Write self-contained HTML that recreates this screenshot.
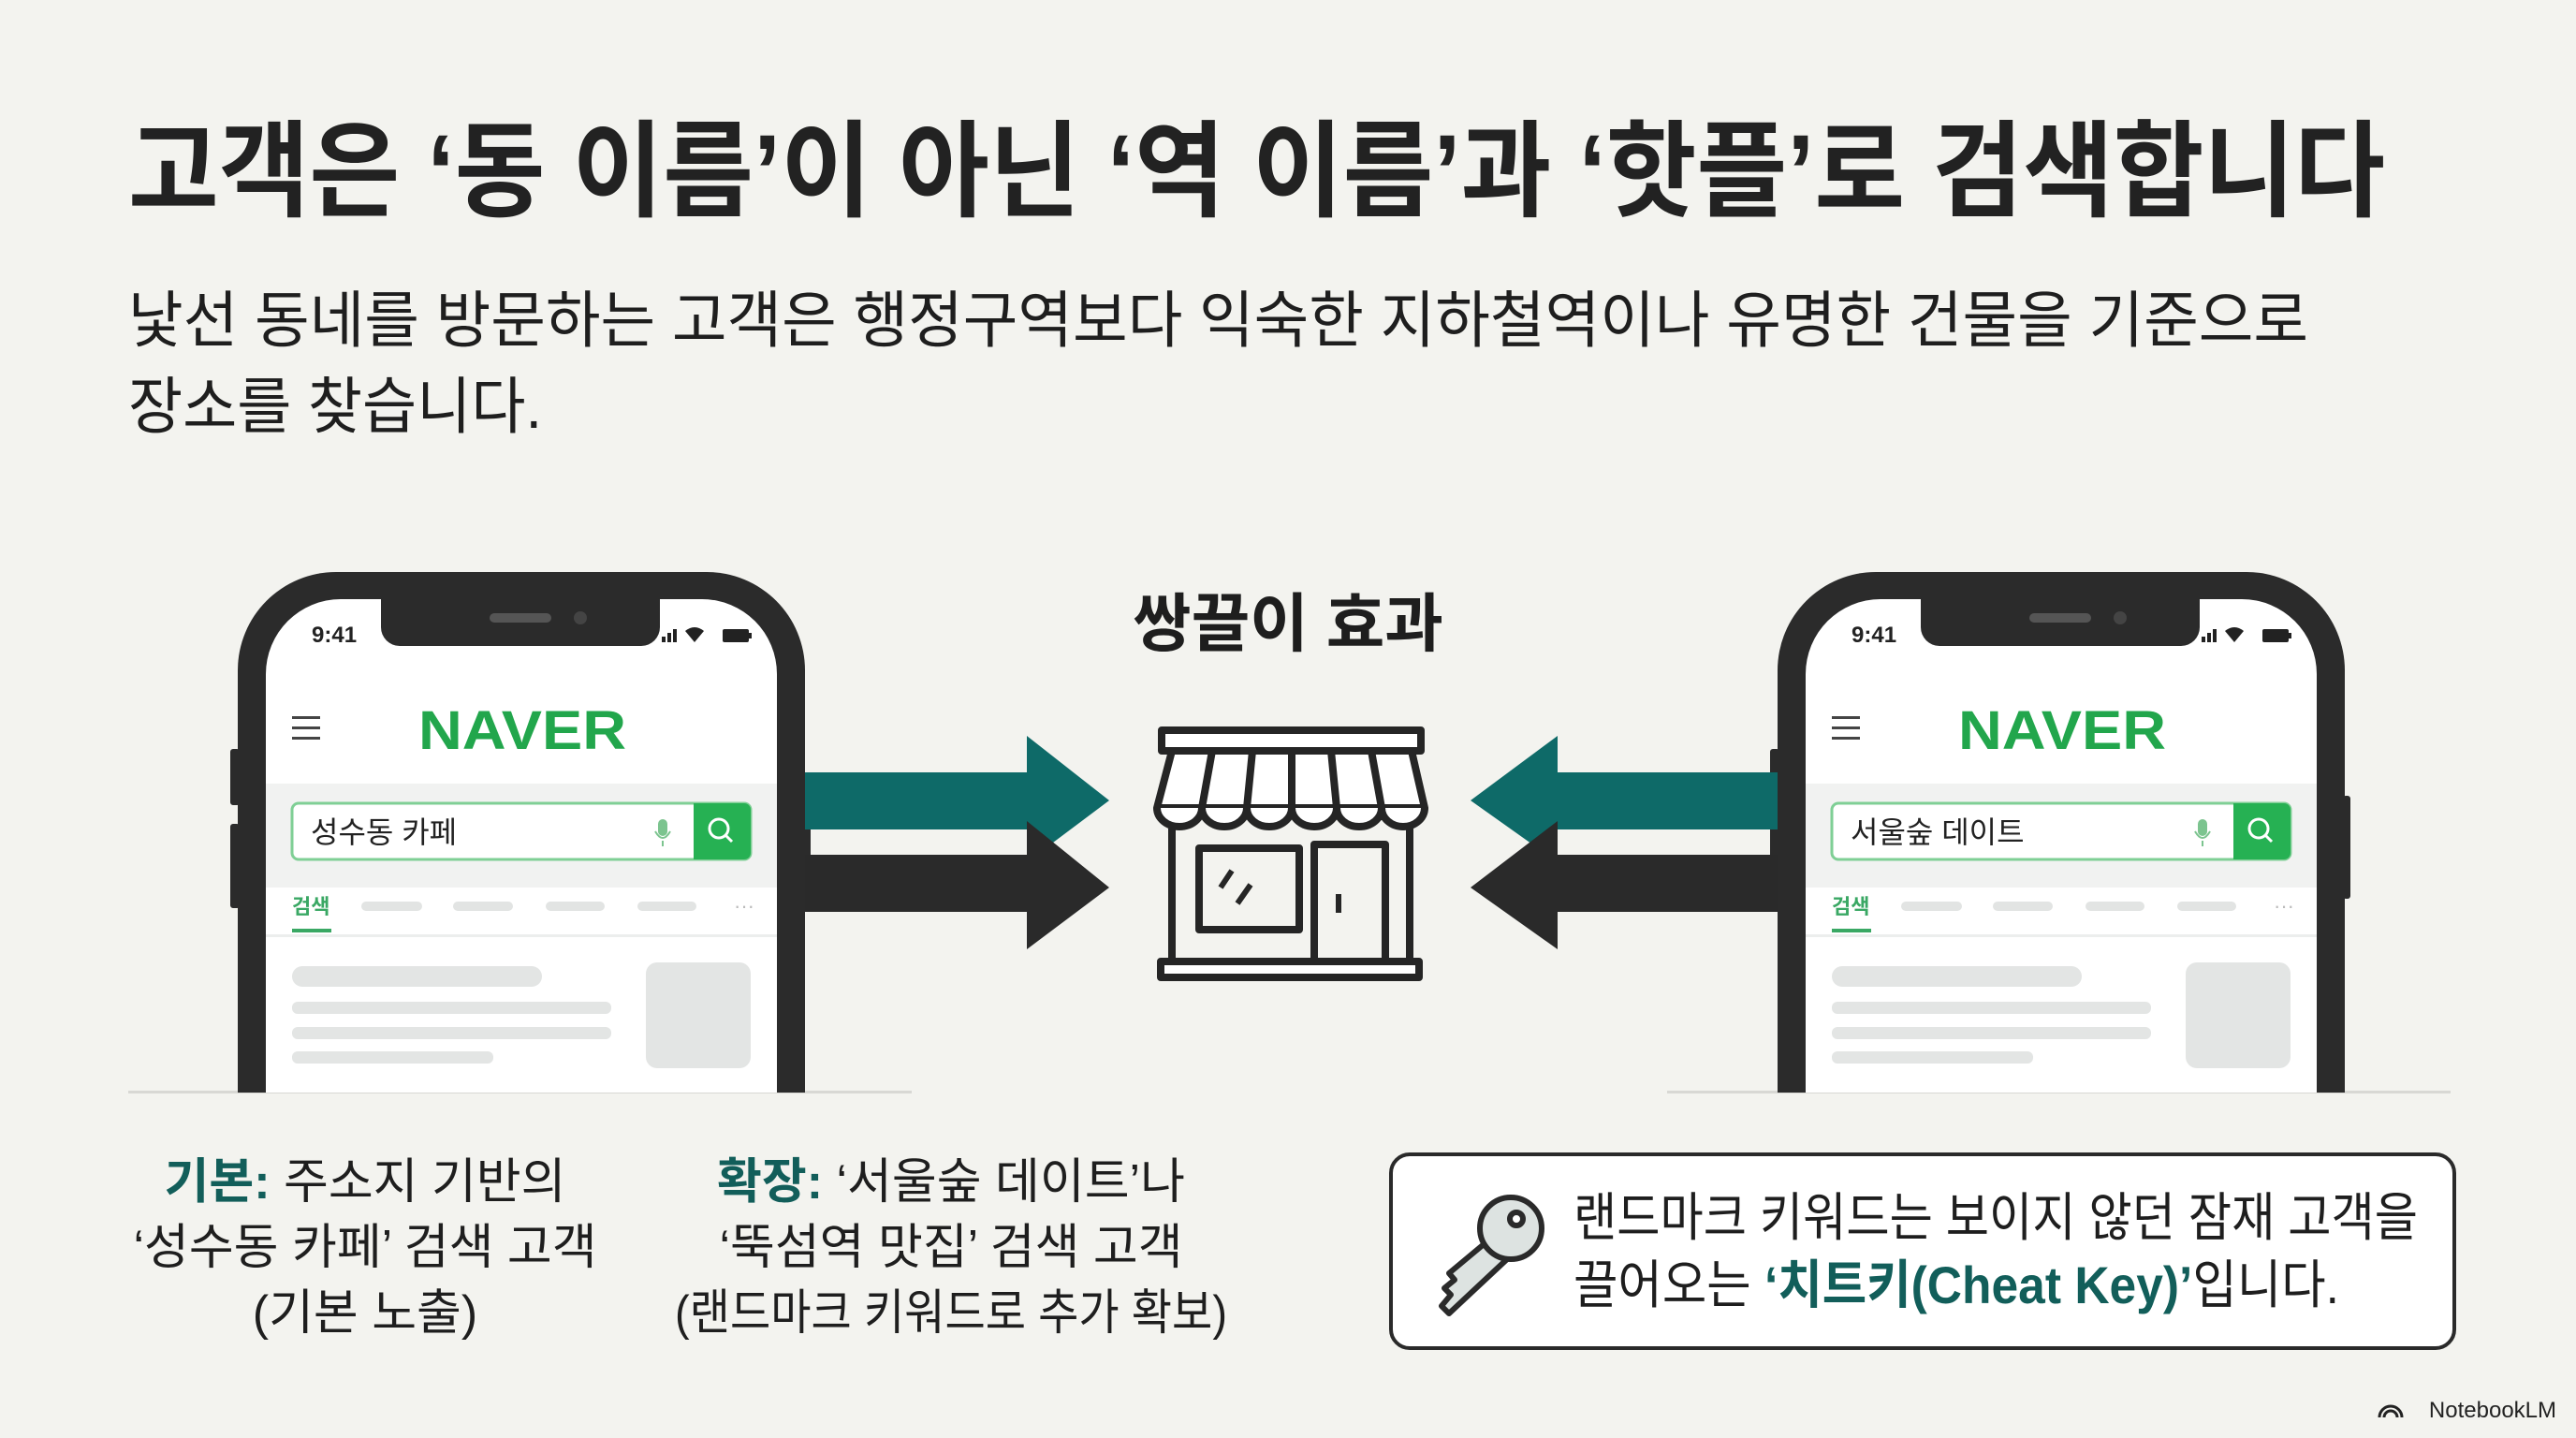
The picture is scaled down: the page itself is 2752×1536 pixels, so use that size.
<!DOCTYPE html>
<html><head><meta charset="utf-8"><style>
html,body{margin:0;padding:0;background:#f3f3ef;}
svg{display:block;}
text{font-family:"Liberation Sans","Noto Sans CJK KR",sans-serif;}
</style></head><body>
<svg width="2752" height="1536" viewBox="0 0 2752 1536" xmlns="http://www.w3.org/2000/svg">
<rect width="2752" height="1536" fill="#f3f3ef"/>

<!-- Title -->
<text x="137" y="222" font-size="112" font-weight="700" fill="#222" textLength="2411" lengthAdjust="spacingAndGlyphs">고객은 ‘동 이름’이 아닌 ‘역 이름’과 ‘핫플’로 검색합니다</text>
<text x="137" y="365" font-size="66" fill="#1e1e1e" textLength="2329" lengthAdjust="spacingAndGlyphs">낯선 동네를 방문하는 고객은 행정구역보다 익숙한 지하철역이나 유명한 건물을 기준으로</text>
<text x="137" y="457" font-size="66" fill="#1e1e1e" textLength="442" lengthAdjust="spacingAndGlyphs">장소를 찾습니다.</text>

<!-- ground lines -->
<rect x="137" y="1165" width="837" height="3" fill="#d8d8d4"/>
<rect x="1781" y="1165" width="837" height="3" fill="#d8d8d4"/>

<!-- Phone definition -->
<defs>
<g id="phone">
  <rect x="246" y="800" width="10" height="60" rx="3" fill="#2b2b2b"/>
  <rect x="246" y="880" width="10" height="90" rx="3" fill="#2b2b2b"/>
  <rect x="858" y="850" width="8" height="110" rx="3" fill="#2b2b2b"/>
  <path d="M254,1167 V716 A105,105 0 0 1 359,611 H755 A105,105 0 0 1 860,716 V1167 Z" fill="#2b2b2b"/>
  <path d="M284,1167 V720 A80,80 0 0 1 364,640 H750 A80,80 0 0 1 830,720 V1167 Z" fill="#fff"/>
  <path d="M407,640 H705 V670 A20,20 0 0 1 685,690 H427 A20,20 0 0 1 407,670 Z" fill="#2b2b2b"/>
  <rect x="523" y="655" width="66" height="10" rx="5" fill="#555"/>
  <circle cx="620" cy="660" r="7" fill="#444"/>
  <text x="333" y="686" font-size="24" font-weight="700" fill="#222">9:41</text>
  <rect x="707" y="680" width="4" height="6" fill="#222"/><rect x="713" y="676" width="4" height="10" fill="#222"/><rect x="719" y="672" width="4" height="14" fill="#222"/>
  <path d="M732,674 Q742,666 752,674 L742,686 Z" fill="#222"/>
  <rect x="772" y="672" width="28" height="14" rx="2" fill="#222"/><rect x="800" y="676" width="3" height="6" fill="#222"/>
  <rect x="312" y="765" width="30" height="3" fill="#444"/><rect x="312" y="776" width="30" height="3" fill="#444"/><rect x="312" y="787" width="30" height="3" fill="#444"/>
  <text x="558" y="800" font-size="58" font-weight="900" fill="#22a64c" text-anchor="middle" font-family="Liberation Sans, sans-serif" textLength="222" lengthAdjust="spacingAndGlyphs">NAVER</text>
  <rect x="284" y="837" width="546" height="111" fill="#f1f2f1"/>
  <rect x="312" y="858" width="490" height="60" rx="7" fill="#fff" stroke="#7fcf95" stroke-width="3"/>
  <path d="M741,858 H795 A7,7 0 0 1 802,865 V911 A7,7 0 0 1 795,918 H741 Z" fill="#26b153"/>
  <circle cx="768" cy="885" r="10" fill="none" stroke="#fff" stroke-width="3"/><line x1="775" y1="892" x2="782" y2="899" stroke="#fff" stroke-width="3"/>
  <rect x="703" y="875" width="10" height="18" rx="5" fill="#7cc48f"/><path d="M700,888 Q708,902 716,888" fill="none" stroke="#7cc48f" stroke-width="2"/><line x1="708" y1="898" x2="708" y2="904" stroke="#7cc48f" stroke-width="2"/>
  <rect x="284" y="948" width="546" height="52" fill="#fff"/>
  <text x="312" y="976" font-size="22" font-weight="700" fill="#3aa864">검색</text>
  <rect x="312" y="992" width="42" height="4" fill="#3aa864"/>
  <rect x="386" y="963" width="65" height="10" rx="5" fill="#e2e4e3"/>
  <rect x="484" y="963" width="64" height="10" rx="5" fill="#e2e4e3"/>
  <rect x="583" y="963" width="63" height="10" rx="5" fill="#e2e4e3"/>
  <rect x="681" y="963" width="63" height="10" rx="5" fill="#e2e4e3"/>
  <text x="795" y="975" font-size="22" fill="#bbb" text-anchor="middle">···</text>
  <rect x="284" y="998" width="546" height="3" fill="#eceeed"/>
  <rect x="312" y="1032" width="267" height="22" rx="11" fill="#e3e5e4"/>
  <rect x="312" y="1070" width="341" height="13" rx="6" fill="#e3e5e4"/>
  <rect x="312" y="1097" width="341" height="13" rx="6" fill="#e3e5e4"/>
  <rect x="312" y="1123" width="215" height="13" rx="6" fill="#e3e5e4"/>
  <rect x="690" y="1028" width="112" height="113" rx="12" fill="#e3e5e4"/>
</g>
</defs>

<use href="#phone"/>
<text x="332" y="900" font-size="32" fill="#222">성수동 카페</text>
<use href="#phone" transform="translate(1645,0)"/>
<text x="1977" y="900" font-size="32" fill="#222">서울숲 데이트</text>

<!-- arrows left -->
<path d="M860,825 H1097 V786 L1185,855 L1097,921 V886 H860 Z" fill="#0e6a68"/>
<path d="M860,913 H1097 V877 L1185,948 L1097,1014 V974 H860 Z" fill="#2a2a2a"/>
<!-- arrows right -->
<path d="M1899,825 H1664 V786 L1571,855 L1664,921 V886 H1899 Z" fill="#0e6a68"/>
<path d="M1899,913 H1664 V877 L1571,948 L1664,1014 V974 H1899 Z" fill="#2a2a2a"/>

<!-- title center -->
<text x="1376" y="690" font-size="68" font-weight="700" fill="#1e1e1e" text-anchor="middle">쌍끌이 효과</text>

<!-- store -->
<g fill="none" stroke="#252525" stroke-width="8" stroke-linejoin="round">
  <rect x="1241" y="780" width="277" height="22" fill="#fff"/>
  <path d="M1252,802 H1508 L1522,863 H1236 Z" fill="#fff"/>
  <path d="M1295,802 L1284,863 M1338,802 L1332,863 M1380,802 V863 M1422,802 L1428,863 M1465,802 L1476,863"/>
  <path d="M1236,863 A24,20 0 0 0 1284,863 A24,20 0 0 0 1332,863 A24,20 0 0 0 1380,863 A24,20 0 0 0 1428,863 A24,20 0 0 0 1476,863 A23,20 0 0 0 1522,863" fill="#fff"/>
  <path d="M1252,885 V1027 M1506,885 V1027"/>
  <rect x="1281" y="906" width="107" height="87"/>
  <rect x="1404" y="902" width="76" height="125"/>
  <path d="M1316,930 L1304,948 M1336,945 L1322,965" stroke-width="6"/>
  <path d="M1430,955 V975" stroke-width="6"/>
  <rect x="1240" y="1027" width="276" height="17" fill="#fff"/>
</g>

<!-- bottom labels -->
<g font-size="52" fill="#1e1e1e" text-anchor="middle">
  <text x="390" y="1280"><tspan fill="#125e5a" font-weight="700">기본:</tspan> 주소지 기반의</text>
  <text x="390" y="1350">‘성수동 카페’ 검색 고객</text>
  <text x="390" y="1420">(기본 노출)</text>
  <text x="1016" y="1280"><tspan fill="#125e5a" font-weight="700">확장:</tspan> ‘서울숲 데이트’나</text>
  <text x="1016" y="1350">‘뚝섬역 맛집’ 검색 고객</text>
  <text x="1016" y="1420" textLength="590" lengthAdjust="spacingAndGlyphs">(랜드마크 키워드로 추가 확보)</text>
</g>

<!-- callout box -->
<rect x="1486" y="1233" width="1136" height="207" rx="20" fill="#fff" stroke="#2a2a2a" stroke-width="4"/>
<g stroke="#2a2a2a" stroke-width="6" fill="#dde3e1" stroke-linejoin="round">
  <path d="M1610,1345 L1548,1403 L1540,1395 L1550,1383 L1543,1376 L1554,1367 L1548,1360 L1590,1325 Z"/>
  <circle cx="1614" cy="1312" r="33"/>
  <circle cx="1620" cy="1302" r="7" fill="#fff"/>
</g>
<text x="1681" y="1320" font-size="56" fill="#1e1e1e" textLength="902" lengthAdjust="spacingAndGlyphs">랜드마크 키워드는 보이지 않던 잠재 고객을</text>
<text x="1681" y="1392" font-size="56" fill="#1e1e1e" textLength="818" lengthAdjust="spacingAndGlyphs">끌어오는 <tspan fill="#125e5a" font-weight="700">‘치트키(Cheat Key)’</tspan>입니다.</text>

<!-- watermark -->
<text x="2731" y="1514" font-size="24" fill="#222" text-anchor="end">NotebookLM</text>
<path d="M2542,1514 A12,12 0 0 1 2566,1514 M2547,1514 A7,7 0 0 1 2561,1514" fill="none" stroke="#222" stroke-width="3"/>
</svg>
</body></html>
